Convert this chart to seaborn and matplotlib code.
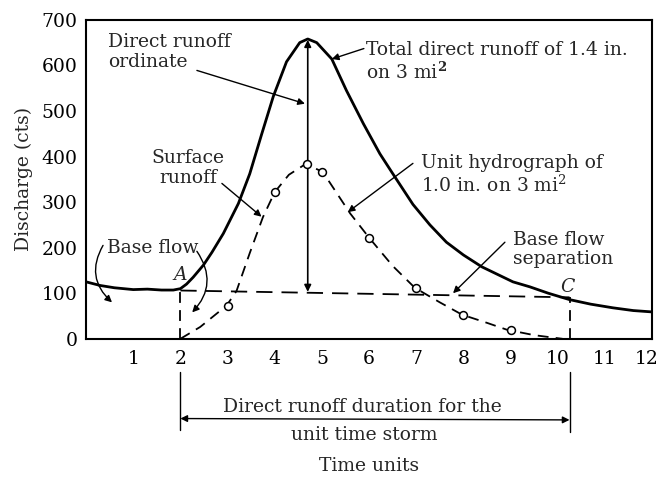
import matplotlib
matplotlib.use("Agg")
import matplotlib.pyplot as plt
import matplotlib.transforms as mtransforms
import seaborn as sns
import numpy as np
import pandas as pd

# ---- data ----
total_x = [0, 0.3, 0.6, 1.0, 1.3, 1.6, 1.85, 2.0, 2.13, 2.27, 2.49, 2.67, 2.91, 3.23,
           3.47, 3.72, 3.97, 4.25, 4.53, 4.7, 4.89, 5.21, 5.52, 5.88, 6.23, 6.48, 6.93,
           7.29, 7.64, 8.0, 8.39, 9.05, 9.41, 9.8, 10.25, 10.7, 11.17, 11.6, 12.0]
total_y = [125, 117, 112, 108, 109, 107, 107, 110, 120, 135, 162, 190, 231, 297,
           362, 448, 532, 608, 650, 658, 650, 614, 545, 472, 406, 366, 295,
           250, 212, 184, 158, 125, 114, 100, 86, 76, 68, 62, 59]

unit_x = [2.0, 2.42, 2.98, 3.19, 3.47, 3.75, 4.0, 4.3, 4.66, 5.02, 5.6, 6.0, 6.5, 6.97,
          7.5, 7.97, 8.5, 8.92, 9.5, 10.1]
unit_y = [0, 26, 73, 105, 188, 267, 322, 360, 384, 366, 275, 222, 160, 112,
          80, 53, 35, 20, 8, 0]

circle_x = [3, 4, 4.68, 5, 6, 7, 8, 9]
circle_y = [73, 322, 384, 366, 222, 112, 53, 20]

base_sep_x = [2.0, 10.25]
base_sep_y = [106, 91]

peak_x = 4.7
peak_y = 656

x_ticks = [1, 2, 3, 4, 5, 6, 7, 8, 9, 10, 11, 12]
x_ticklabels = ["1", "2", "3", "4", "5", "6", "7", "8", "9", "10", "11", "12"]
y_ticks = [0, 100, 200, 300, 400, 500, 600, 700]
y_ticklabels = ["0", "100", "200", "300", "400", "500", "600", "700"]

# ---- styling ----
sns.set_style("white")
plt.rcParams["font.family"] = ["DejaVu Serif"]
plt.rcParams["mathtext.fontset"] = "dejavuserif"

fig = plt.figure(figsize=(6.62, 4.84), dpi=100)
ax = fig.add_axes([0.130, 0.300, 0.855, 0.659])

total_df = pd.DataFrame({"t": total_x, "q": total_y})
unit_df = pd.DataFrame({"t": unit_x, "q": unit_y})
circ_df = pd.DataFrame({"t": circle_x, "q": circle_y})
base_df = pd.DataFrame({"t": base_sep_x, "q": base_sep_y})

sns.lineplot(data=total_df, x="t", y="q", color="black", lw=2.0, ax=ax, sort=False)
sns.lineplot(data=unit_df, x="t", y="q", color="black", lw=1.3, ax=ax, sort=False,
             linestyle=(0, (6, 4)))
sns.lineplot(data=base_df, x="t", y="q", color="black", lw=1.3, ax=ax, sort=False,
             linestyle=(0, (9, 5)))
sns.scatterplot(data=circ_df, x="t", y="q", marker="o", s=32, facecolor="white",
                edgecolor="black", linewidth=1.1, ax=ax, zorder=5)

# vertical dashed lines at A and C
ax.plot([base_sep_x[0], base_sep_x[0]], [0, base_sep_y[0]], color="black", lw=1.3,
        linestyle=(0, (6, 4)))
ax.plot([base_sep_x[1], base_sep_x[1]], [0, base_sep_y[1]], color="black", lw=1.3,
        linestyle=(0, (6, 4)))

# direct runoff ordinate (double arrow)
ax.annotate("", xy=(peak_x, peak_y), xytext=(peak_x, 103),
            arrowprops=dict(arrowstyle="<|-|>", color="black", lw=1.2,
                            mutation_scale=10, shrinkA=0, shrinkB=0))

ax.set_xlim(0, 12)
ax.set_ylim(0, 700)
ax.set_xticks(x_ticks)
ax.set_xticklabels(x_ticklabels)
ax.set_yticks(y_ticks)
ax.set_yticklabels(y_ticklabels)
ax.tick_params(direction="in", length=5, width=1.2, labelsize=13.5, colors="black")
ax.tick_params(axis="x", pad=8)
ax.tick_params(axis="y", pad=6)
for s in ax.spines.values():
    s.set_visible(True)
    s.set_color("black")
    s.set_linewidth(1.5)

# keep the last x tick label ("12") inside the canvas
last_lbl = ax.get_xticklabels()[-1]
last_lbl.set_transform(last_lbl.get_transform() +
                       mtransforms.ScaledTranslation(-4 / 72, 0, fig.dpi_scale_trans))

ax.set_xlabel("Time units", fontsize=13.5, labelpad=64)
ax.set_ylabel("Discharge (cts)", fontsize=13.5, labelpad=6)

fs = 13.5
arrow = dict(arrowstyle="-|>", color="black", lw=1.0, mutation_scale=10, shrinkA=0, shrinkB=0)

ax.text(0.47, 672, "Direct runoff\nordinate", fontsize=fs, va="top", ha="left",
        linespacing=1.15)
ax.annotate("", xy=(4.64, 516), xytext=(2.35, 589), arrowprops=arrow)

ax.text(5.93, 654, "Total direct runoff of 1.4 in.\non 3 mi$^{\\mathbf{2}}$", fontsize=fs,
        va="top", ha="left", linespacing=1.15)
ax.annotate("", xy=(5.21, 614), xytext=(5.89, 637), arrowprops=arrow)

ax.text(2.16, 416, "Surface\nrunoff", fontsize=fs, va="top", ha="center", linespacing=1.15)
ax.annotate("", xy=(3.72, 268), xytext=(2.88, 341), arrowprops=arrow)

ax.text(7.1, 405, "Unit hydrograph of\n1.0 in. on 3 mi$^{2}$", fontsize=fs, va="top",
        ha="left", linespacing=1.15)
ax.annotate("", xy=(5.55, 278), xytext=(6.93, 385), arrowprops=arrow)

ax.text(9.05, 236, "Base flow\nseparation", fontsize=fs, va="top", ha="left",
        linespacing=1.05)
ax.annotate("", xy=(7.78, 100), xytext=(8.88, 212), arrowprops=arrow)

ax.text(0.44, 200, "Base flow", fontsize=fs, va="center", ha="left")
ax.annotate("", xy=(0.55, 80), xytext=(0.36, 205),
            arrowprops=dict(arrowstyle="-|>", color="black", lw=1.0, mutation_scale=10,
                            connectionstyle="arc3,rad=0.4", shrinkA=0, shrinkB=0))
ax.annotate("", xy=(2.25, 58), xytext=(2.35, 192),
            arrowprops=dict(arrowstyle="-|>", color="black", lw=1.0, mutation_scale=10,
                            connectionstyle="arc3,rad=-0.4", shrinkA=0, shrinkB=0))

ax.text(1.99, 140, "A", fontsize=fs, style="italic", ha="center", va="center")
ax.text(10.21, 114, "C", fontsize=fs, style="italic", ha="center", va="center")

# duration bracket below axis
ax.plot([base_sep_x[0], base_sep_x[0]], [-72, -200], color="black", lw=1.0, clip_on=False)
ax.plot([base_sep_x[1], base_sep_x[1]], [-72, -205], color="black", lw=1.0, clip_on=False)
ax.annotate("", xy=(base_sep_x[0], -175), xytext=(base_sep_x[1], -178),
            arrowprops=dict(arrowstyle="<|-|>", color="black", lw=1.0, mutation_scale=10,
                            shrinkA=0, shrinkB=0), annotation_clip=False)
ax.text(5.85, -149, "Direct runoff duration for the", fontsize=fs, ha="center",
        va="center", clip_on=False)
ax.text(5.9, -212, "unit time storm", fontsize=fs, ha="center", va="center", clip_on=False)

fig.savefig("out.png", dpi=100)
